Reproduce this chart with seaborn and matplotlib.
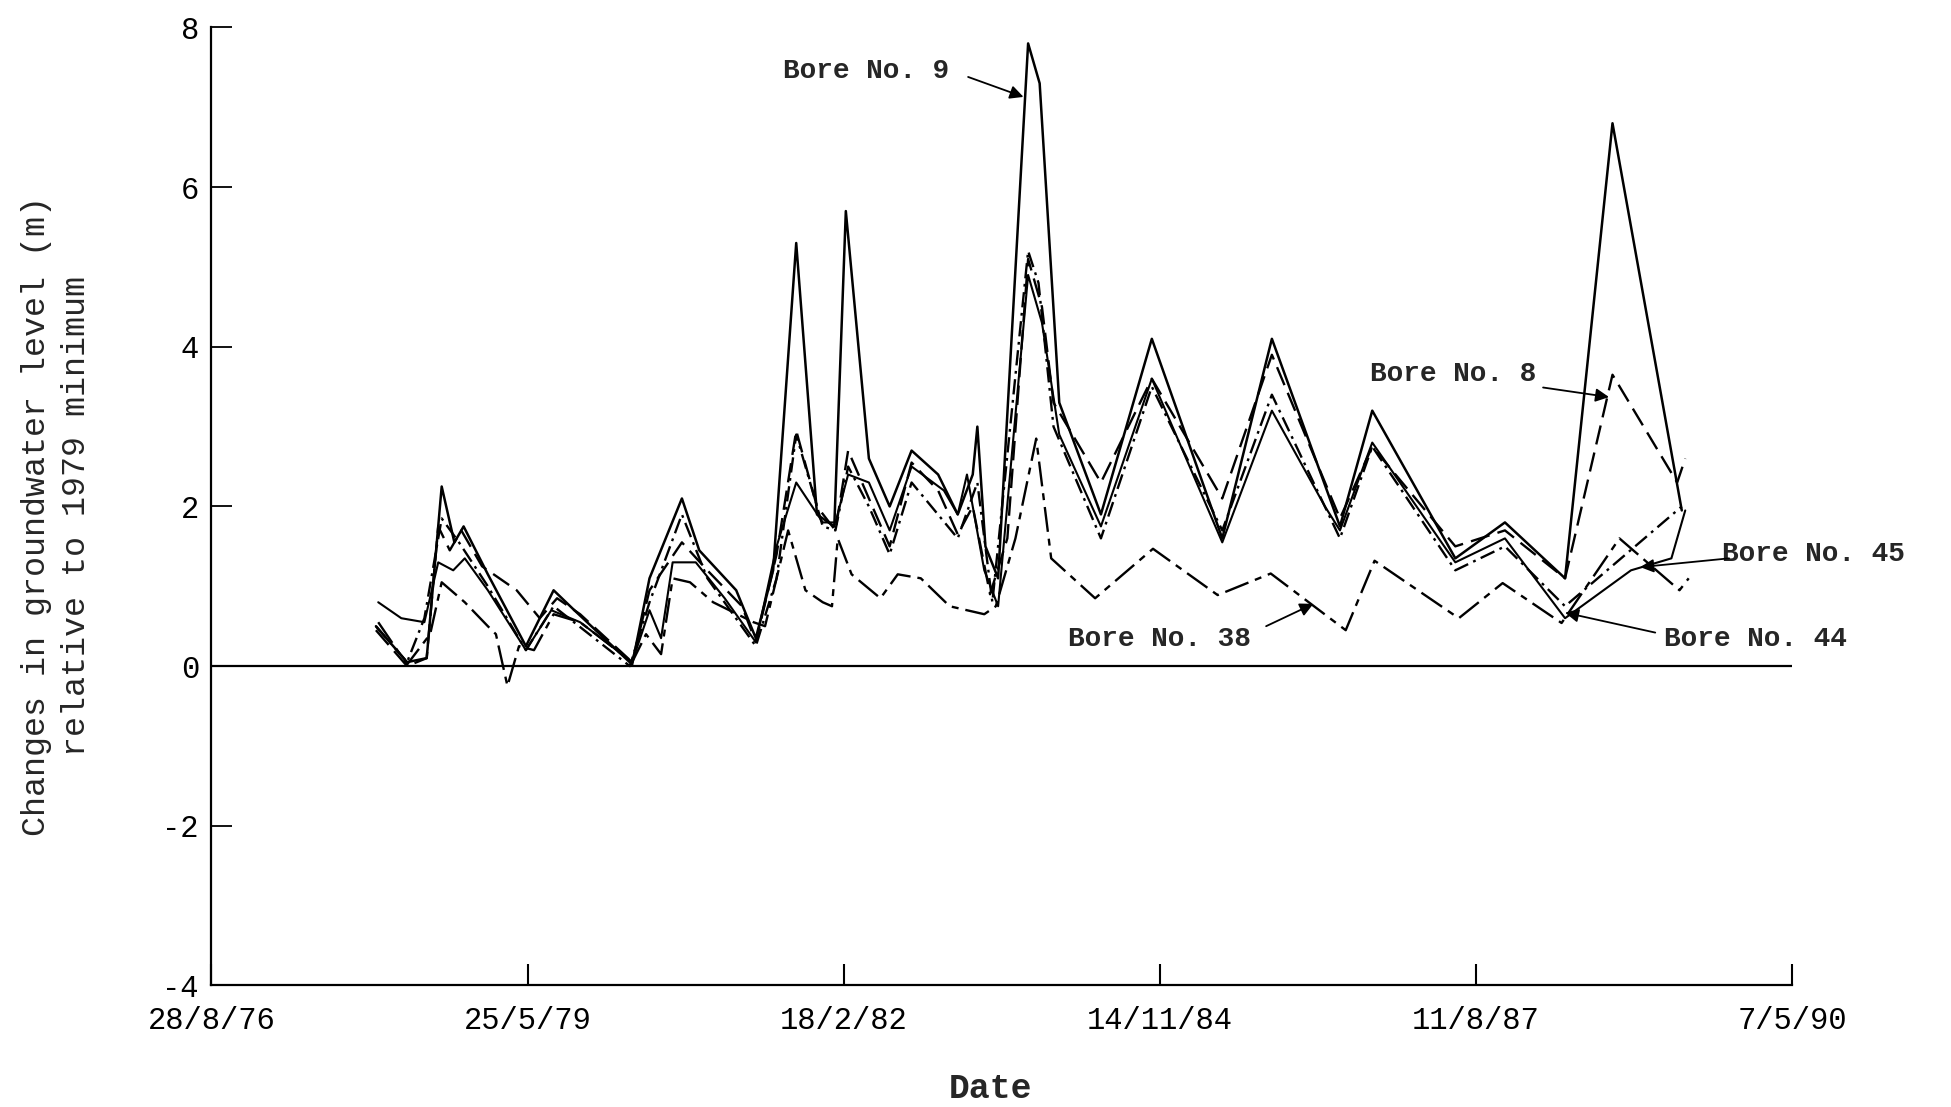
import numpy as np
import pandas as pd
import matplotlib
matplotlib.use("Agg")
import matplotlib.pyplot as plt
import seaborn as sns

# ---------------- data (decimal years, metres) ----------------
bore9_t = [1978.08, 1978.35, 1978.52, 1978.65, 1978.76, 1978.84, 1979.05, 1979.38, 1979.62, 1979.80,
           1980.30, 1980.45, 1980.73, 1980.88, 1981.20, 1981.37, 1981.52, 1981.72, 1981.90, 1982.05,
           1982.15, 1982.35, 1982.53, 1982.72, 1982.95, 1983.12, 1983.25, 1983.29, 1983.36, 1983.47,
           1983.73, 1983.83, 1984.00, 1984.36, 1984.80, 1985.41, 1985.84, 1986.43, 1986.71, 1987.43,
           1987.86, 1988.38, 1988.79, 1989.39]
bore9_v = [0.50, 0.05, 0.10, 2.25, 1.55, 1.75, 1.15, 0.25, 0.95, 0.70,
           0.02, 1.10, 2.10, 1.45, 0.95, 0.35, 1.20, 5.30, 1.90, 1.75,
           5.70, 2.60, 2.00, 2.70, 2.40, 1.90, 2.40, 3.00, 1.50, 1.10,
           7.80, 7.30, 3.30, 1.90, 4.10, 1.60, 4.10, 1.75, 3.20, 1.35,
           1.80, 1.10, 6.80, 1.95]

bore8_t = [1978.08, 1978.35, 1978.52, 1978.62, 1978.72, 1978.82, 1979.00, 1979.30, 1979.50, 1979.65,
           1979.85, 1980.30, 1980.45, 1980.73, 1980.95, 1981.25, 1981.37, 1981.55, 1981.72, 1981.90,
           1982.06, 1982.17, 1982.35, 1982.53, 1982.72, 1982.95, 1983.12, 1983.25, 1983.40, 1983.55,
           1983.73, 1983.85, 1983.95, 1984.36, 1984.80, 1985.41, 1985.84, 1986.43, 1986.71, 1987.43,
           1987.86, 1988.38, 1988.79, 1989.35, 1989.42]
bore8_v = [0.45, 0.00, 0.10, 1.75, 1.45, 1.70, 1.25, 0.95, 0.60, 0.85,
           0.65, 0.05, 0.95, 1.55, 1.20, 0.75, 0.30, 1.40, 2.95, 2.00,
           1.70, 2.70, 2.10, 1.50, 2.55, 2.20, 1.65, 2.00, 0.90, 1.60,
           5.10, 4.50, 3.30, 2.30, 3.60, 2.10, 3.90, 1.85, 2.75, 1.50,
           1.70, 1.10, 3.65, 2.30, 2.60]

bore45_t = [1978.08, 1978.35, 1978.50, 1978.65, 1978.80, 1979.05, 1979.38, 1979.62, 1980.28, 1980.45,
            1980.73, 1980.95, 1981.37, 1981.55, 1981.72, 1981.95, 1982.06, 1982.17, 1982.35, 1982.53,
            1982.72, 1983.12, 1983.29, 1983.42, 1983.73, 1983.82, 1983.95, 1984.36, 1984.80, 1985.41,
            1985.84, 1986.43, 1986.71, 1987.43, 1987.86, 1988.38, 1989.39]
bore45_v = [0.50, 0.05, 0.60, 1.85, 1.55, 1.00, 0.20, 0.75, 0.00, 0.80,
            1.90, 1.10, 0.25, 1.10, 2.90, 1.75, 1.70, 2.50, 2.00, 1.40,
            2.30, 1.60, 2.30, 0.80, 5.20, 4.80, 3.00, 1.60, 3.50, 1.70,
            3.40, 1.60, 2.75, 1.20, 1.50, 0.75, 2.00]

bore44_t = [1978.10, 1978.30, 1978.50, 1978.62, 1978.75, 1978.85, 1979.05, 1979.38, 1979.60, 1979.85,
            1980.30, 1980.45, 1980.55, 1980.65, 1980.85, 1981.10, 1981.37, 1981.55, 1981.72, 1981.95,
            1982.06, 1982.17, 1982.35, 1982.53, 1982.72, 1983.00, 1983.12, 1983.20, 1983.35, 1983.47,
            1983.73, 1983.85, 1984.00, 1984.36, 1984.80, 1985.41, 1985.84, 1986.30, 1986.43, 1986.71,
            1987.43, 1987.86, 1988.38, 1988.95, 1989.30, 1989.42]
bore44_v = [0.80, 0.60, 0.55, 1.30, 1.20, 1.35, 0.95, 0.20, 0.70, 0.55,
            0.05, 0.70, 0.35, 1.30, 1.30, 0.85, 0.30, 1.50, 2.30, 1.80,
            1.80, 2.40, 2.30, 1.70, 2.50, 2.20, 1.90, 2.40, 1.20, 0.75,
            4.90, 4.30, 2.90, 1.75, 3.60, 1.55, 3.20, 2.00, 1.70, 2.80,
            1.30, 1.60, 0.60, 1.20, 1.35, 1.95]

bore38_t = [1978.10, 1978.35, 1978.55, 1978.65, 1978.85, 1979.05, 1979.12, 1979.22, 1979.32, 1979.45,
            1979.62, 1979.85, 1980.30, 1980.42, 1980.55, 1980.65, 1980.80, 1981.00, 1981.35, 1981.45,
            1981.55, 1981.65, 1981.80, 1981.95, 1982.03, 1982.08, 1982.20, 1982.45, 1982.60, 1982.80,
            1983.05, 1983.35, 1983.45, 1983.62, 1983.80, 1983.93, 1984.31, 1984.81, 1985.37, 1985.83,
            1986.48, 1986.73, 1987.46, 1987.84, 1988.35, 1988.85, 1989.37, 1989.45]
bore38_v = [0.55, 0.02, 0.40, 1.05, 0.80, 0.50, 0.40, -0.25, 0.25, 0.20,
            0.65, 0.55, 0.05, 0.40, 0.15, 1.10, 1.05, 0.80, 0.55, 0.50,
            1.10, 1.70, 0.95, 0.80, 0.75, 1.60, 1.15, 0.85, 1.15, 1.10,
            0.75, 0.65, 0.75, 1.60, 2.85, 1.35, 0.85, 1.47, 0.89, 1.16,
            0.45, 1.32, 0.60, 1.04, 0.54, 1.60, 0.95, 1.10]

xtick_dates = ["1976-08-28", "1979-05-25", "1982-02-18", "1984-11-14", "1987-08-11", "1990-05-07"]
xtick_labels = ["28/8/76", "25/5/79", "18/2/82", "14/11/84", "11/8/87", "7/5/90"]
ytick_values = [-4, -2, 0, 2, 4, 6, 8]
ytick_labels = ["-4", "-2", "0", "2", "4", "6", "8"]

# annotation: label, text position (year, value), arrow tail, arrow head
annot_labels = ["Bore No. 9", "Bore No. 8", "Bore No. 45", "Bore No. 44", "Bore No. 38"]
annot_text_xy = [(1982.33, 7.45), (1987.41, 3.66), (1990.53, 1.40), (1990.03, 0.34), (1984.87, 0.34)]
annot_tail = [(1983.21, 7.38), (1988.19, 3.49), (1989.80, 1.35), (1989.16, 0.42), (1985.79, 0.50)]
annot_head = [(1983.69, 7.13), (1988.76, 3.37), (1989.03, 1.24), (1988.38, 0.67), (1986.20, 0.78)]


def to_date(y):
    y = np.asarray(y, dtype=float)
    yr = np.floor(y).astype(int)
    out = []
    for yi, fi in zip(yr, y - yr):
        start = pd.Timestamp(year=int(yi), month=1, day=1)
        end = pd.Timestamp(year=int(yi) + 1, month=1, day=1)
        out.append(start + (end - start) * float(fi))
    return pd.to_datetime(out)


sns.set_style("white")
plt.rcParams["font.family"] = ["Liberation Mono", "DejaVu Sans Mono"]
plt.rcParams["lines.scale_dashes"] = False
plt.rcParams["axes.unicode_minus"] = False

fig = plt.figure(figsize=(19.51, 11.07), dpi=100)
ax = fig.add_axes([0.1084, 0.1098, 0.8101, 0.8654])

series = [
    ("Bore 9", bore9_t, bore9_v, 1.8, None),
    ("Bore 8", bore8_t, bore8_v, 1.7, (14, 6)),
    ("Bore 45", bore45_t, bore45_v, 1.7, (11, 4, 2, 4)),
    ("Bore 44", bore44_t, bore44_v, 1.5, None),
    ("Bore 38", bore38_t, bore38_v, 1.7, (18, 5, 5, 5)),
]
for name, t, v, lw, dash in series:
    df = pd.DataFrame({"date": to_date(t), "level": v})
    sns.lineplot(data=df, x="date", y="level", ax=ax, color="black",
                 linewidth=lw, estimator=None, sort=False, legend=False)
    if dash is not None:
        ax.lines[-1].set_dashes(dash)

ax.axhline(0, color="black", lw=1.6, zorder=1)

xt = pd.to_datetime(xtick_dates)
ax.set_xlim(xt[0], xt[-1])
ax.set_ylim(-4, 8)
ax.set_xticks(xt)
ax.set_xticklabels(xtick_labels)
ax.set_yticks(ytick_values)
ax.set_yticklabels(ytick_labels)

for s in ["top", "right"]:
    ax.spines[s].set_visible(False)
for s in ["left", "bottom"]:
    ax.spines[s].set_color("black")
    ax.spines[s].set_linewidth(1.6)

ax.tick_params(axis="x", direction="in", length=15, width=1.5, pad=15,
               labelsize=22, colors="black", bottom=True)
ax.tick_params(axis="y", direction="in", length=15, width=1.3, pad=9,
               labelsize=22, colors="black", left=True)

ax.set_xlabel("Date", fontsize=25, fontweight="bold", va="center")
ax.xaxis.set_label_coords(0.4926, -0.108)
ax.set_ylabel("Changes in groundwater level (m)\nrelative to 1979 minimum",
              fontsize=24, linespacing=1.35, multialignment="center", va="center")
ax.yaxis.set_label_coords(-0.098, 0.49)

for lab, txy, tail, head in zip(annot_labels, annot_text_xy, annot_tail, annot_head):
    td = to_date([txy[0]])[0]
    ax.text(td, txy[1], lab, fontsize=20, fontweight="bold", ha="center", va="center",
            clip_on=False)
    ax.annotate("", xy=(to_date([head[0]])[0], head[1]),
                xytext=(to_date([tail[0]])[0], tail[1]),
                arrowprops=dict(arrowstyle="-|>", color="black", lw=1.3,
                                mutation_scale=20, shrinkA=0, shrinkB=0),
                annotation_clip=False)

ax.grid(False)
fig.savefig("out.png", dpi=100, facecolor="white")
